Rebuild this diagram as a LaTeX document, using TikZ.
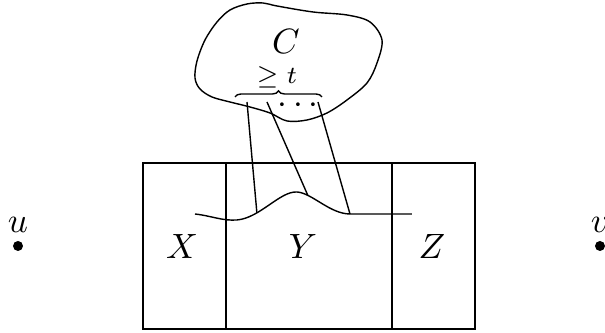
\documentclass[tikz,border=0pt]{standalone}
\usetikzlibrary{decorations.pathreplacing,positioning}
\tikzset{
  vert/.style={circle, fill=black, inner sep=0pt, minimum size=0.1cm},
  vlabel/.style={inner sep=0pt},
  small/.style={inner sep=0pt},
  bracedec/.style={decorate, decoration={brace, amplitude=0.06cm}},
  spoke/.style={line width=0.4pt}
}
\begin{document}
\begin{tikzpicture}
  \useasboundingbox (0,0) rectangle (6.05,3.33);
  % the three parts
  \draw (1.43,0.04) rectangle (4.75,1.70);
  \draw (2.26,0.04) -- (2.26,1.70);
  \draw (3.92,0.04) -- (3.92,1.70);
  \node (X) at (1.82,0.86) {$X$};
  \node (Y) at (3.03,0.86) {$Y$};
  \node (Z) at (4.32,0.86) {$Z$};
  % the cut
  \draw (1.95,1.19) .. controls (2.12,1.17) and (2.22,1.12) .. (2.37,1.13)
    .. controls (2.6,1.15) and (2.8,1.42) .. (2.97,1.41) coordinate[pos=0.3] (p1)
    .. controls (3.12,1.40) and (3.3,1.19) .. (3.50,1.19) coordinate[pos=0.23] (p2)
    coordinate (p3) -- (4.12,1.19);
  % the set C
  \draw plot[smooth cycle, tension=0.55] coordinates {
    (1.95,2.55) (1.97,2.72) (2.05,2.93) (2.17,3.11) (2.30,3.23) (2.47,3.29)
    (2.63,3.30) (2.77,3.27) (3.13,3.21) (3.47,3.18) (3.70,3.11) (3.82,2.93)
    (3.77,2.70) (3.67,2.50) (3.47,2.33) (3.27,2.20) (3.07,2.13) (2.87,2.12)
    (2.70,2.20) (2.50,2.26) (2.30,2.31) (2.12,2.36) (2.00,2.44)};
  \node[small] (C) at (2.86,2.91) {$C$};
  \draw[bracedec] (2.35,2.36) -- (3.22,2.36);
  \node[small] (ge) at (2.77,2.56) {\scriptsize $\geq t$};
  \node[small] (dots) at (2.98,2.19) {\smash{$\cdots$}};
  \coordinate (s1) at (2.47,2.31);
  \coordinate (s2) at (2.67,2.31);
  \coordinate (s3) at (3.18,2.31);
  \draw[spoke] (s1) -- (p1);
  \draw[spoke] (s2) -- (p2);
  \draw[spoke] (s3) -- (p3);
  % end vertices
  \node[vert] (u) at (0.18,0.87) {};
  \node[vlabel, above=0.07cm of u] (ulab) {$u$};
  \node[vert] (v) at (6.00,0.87) {};
  \node[vlabel, above=0.07cm of v] (vlab) {$v$};
\end{tikzpicture}
\end{document}
